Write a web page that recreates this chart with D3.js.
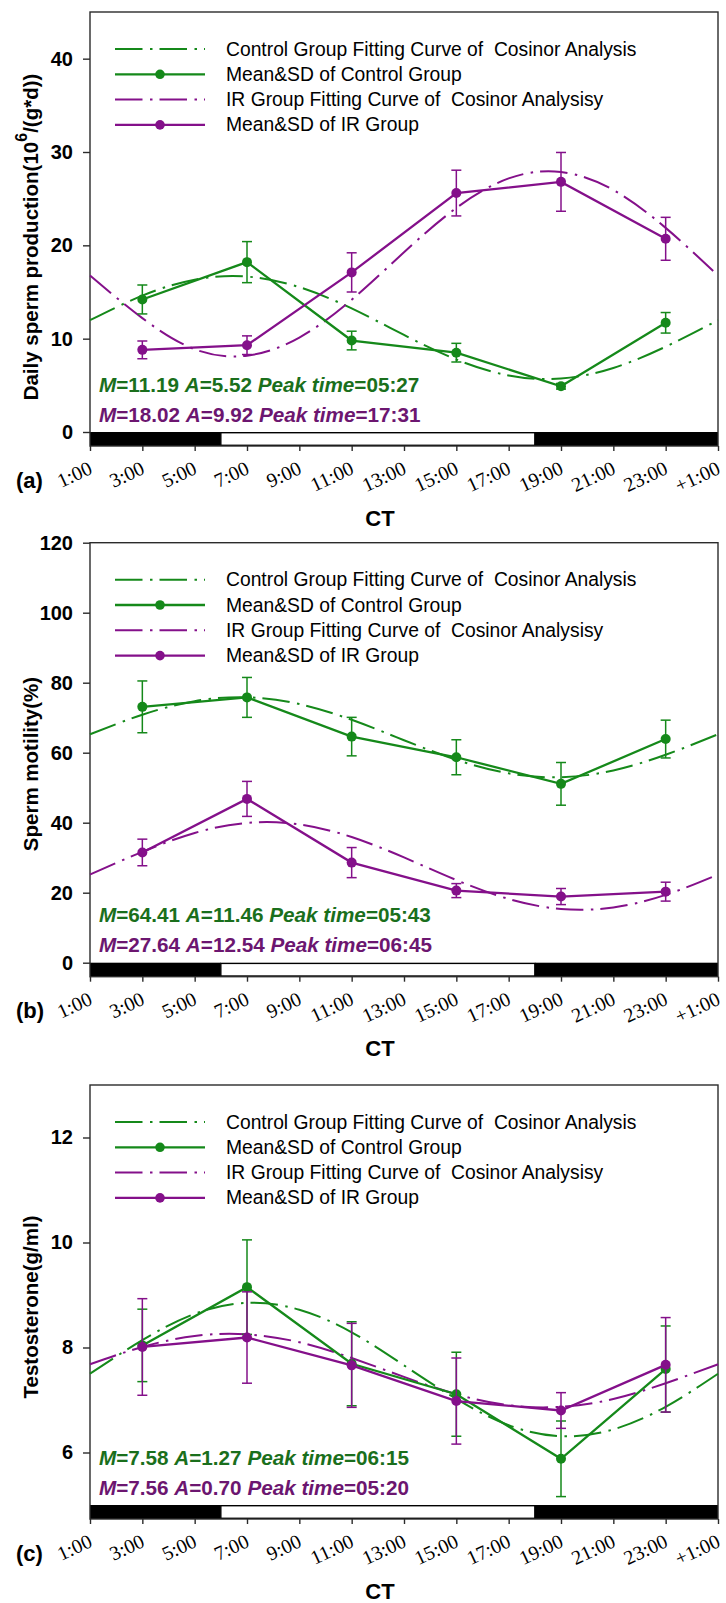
<!DOCTYPE html>
<html>
<head>
<meta charset="utf-8">
<script src="https://cdn.jsdelivr.net/npm/d3@7"></script>
<style>
  body { margin: 0; background: #fff; }
  svg { display: block; }
</style>
</head>
<body>
<div id="figure"></div>
<script>
// sampling times (CT hours) and x axis
const sampleHours = [3, 7, 11, 15, 19, 23];
const fitHours = [1, 3, 5, 7, 9, 11, 13, 15, 17, 19, 21, 23, 25];
const tickHours = [1, 3, 5, 7, 9, 11, 13, 15, 17, 19, 21, 23, 25];
const tickLabels = ['1:00', '3:00', '5:00', '7:00', '9:00', '11:00', '13:00', '15:00', '17:00', '19:00', '21:00', '23:00', '+1:00'];
const lightPhases = [[1, 6, 'dark'], [6, 18, 'light'], [18, 25, 'dark']];

const legendLabels = [
  'Control Group Fitting Curve of  Cosinor Analysis',
  'Mean&SD of Control Group',
  'IR Group Fitting Curve of  Cosinor Analysisy',
  'Mean&SD of IR Group'
];

// (a) daily sperm production
const dspTicks = [0, 10, 20, 30, 40];
const dspControlMean = [14.2, 18.2, 9.8, 8.5, 4.9, 11.7];
const dspControlSd = [1.55, 2.2, 1.0, 1.0, 0.3, 1.1];
const dspIrMean = [8.8, 9.3, 17.1, 25.6, 26.8, 20.7];
const dspIrSd = [0.95, 1.0, 2.1, 2.45, 3.15, 2.3];
const dspControlFit = [11.98, 14.61, 16.32, 16.65, 15.52, 13.24, 10.40, 7.77, 6.06, 5.73, 6.86, 9.14, 11.98];
const dspIrFit = [16.78, 12.2, 8.87, 8.18, 10.12, 14.17, 19.26, 24.01, 27.17, 27.86, 25.93, 21.87, 16.78];
const dspControlStats = ['11.19', '5.52', '05:27'];
const dspIrStats = ['18.02', '9.92', '17:31'];

// (b) sperm motility
const motTicks = [0, 20, 40, 60, 80, 100, 120];
const motControlMean = [73.1, 75.8, 64.6, 58.7, 51.1, 63.9];
const motControlSd = [7.4, 5.7, 5.5, 5.0, 6.1, 5.4];
const motIrMean = [31.5, 46.8, 28.6, 20.6, 18.9, 20.3];
const motIrSd = [3.8, 5.0, 4.3, 2.0, 2.3, 2.7];
const motControlFit = [65.25, 70.85, 74.73, 75.84, 73.89, 69.40, 63.57, 57.97, 54.10, 52.98, 54.93, 59.42, 65.25];
const motIrFit = [25.19, 31.67, 37.07, 39.94, 39.52, 35.90, 30.09, 23.61, 18.21, 15.34, 15.77, 19.38, 25.19];
const motControlStats = ['64.41', '11.46', '05:43'];
const motIrStats = ['27.64', '12.54', '06:45'];

// (c) testosterone
const tesTicks = [6, 8, 10, 12];
const tesControlMean = [8.04, 9.15, 7.69, 7.11, 5.88, 7.59];
const tesControlSd = [0.69, 0.9, 0.8, 0.8, 0.72, 0.82];
const tesIrMean = [8.01, 8.19, 7.66, 6.98, 6.80, 7.67];
const tesIrSd = [0.92, 0.87, 0.8, 0.82, 0.34, 0.9];
const tesControlFit = [7.50, 8.14, 8.64, 8.85, 8.72, 8.29, 7.66, 7.02, 6.52, 6.31, 6.44, 6.87, 7.50];
const tesIrFit = [7.68, 8.01, 8.22, 8.25, 8.10, 7.80, 7.44, 7.11, 6.90, 6.87, 7.02, 7.32, 7.68];
const tesControlStats = ['7.58', '1.27', '06:15'];
const tesIrStats = ['7.56', '0.70', '05:20'];

const GREEN = '#15891a';
const PURPLE = '#84108a';
const GREEN_TEXT = '#1a6f1c';
const PURPLE_TEXT = '#6c1670';
const SANS = "'Liberation Sans', Arial, sans-serif";
const SERIF = "'Liberation Serif', 'Times New Roman', serif";
const FIT_DASH = '27.5,7.5,2.5,7';

class CosinorFigure {
  constructor() {
    this.width = 726;
    this.height = 1603;
    this.left = 90;
    this.right = 718;
    this.barHeight = 14;
    this.x = d3.scaleLinear().domain([1, 25]).range([this.left, this.right]);

    this.svg = d3.select('#figure')
      .append('svg')
      .attr('width', this.width)
      .attr('height', this.height);

    this.svg.append('rect')
      .attr('width', this.width)
      .attr('height', this.height)
      .attr('fill', '#fff');

    this.panels = [
      {
        tag: '(a)', top: 12, bottom: 432, domain: [0, 45], ticks: dspTicks,
        title: ['Daily sperm production(10', '6', '/(g*d))'], titleY: 237,
        control: { mean: dspControlMean, sd: dspControlSd, fit: dspControlFit, stats: dspControlStats },
        ir: { mean: dspIrMean, sd: dspIrSd, fit: dspIrFit, stats: dspIrStats }
      },
      {
        tag: '(b)', top: 542.7, bottom: 962.7, domain: [0, 120], ticks: motTicks,
        title: ['Sperm motility(%)'], titleY: 764,
        control: { mean: motControlMean, sd: motControlSd, fit: motControlFit, stats: motControlStats },
        ir: { mean: motIrMean, sd: motIrSd, fit: motIrFit, stats: motIrStats }
      },
      {
        tag: '(c)', top: 1085, bottom: 1505, domain: [5, 13], ticks: tesTicks,
        title: ['Testosterone(g/ml)'], titleY: 1307,
        control: { mean: tesControlMean, sd: tesControlSd, fit: tesControlFit, stats: tesControlStats },
        ir: { mean: tesIrMean, sd: tesIrSd, fit: tesIrFit, stats: tesIrStats }
      }
    ];

    this.panels.forEach(p => this.renderPanel(p));
  }

  renderPanel(p) {
    const x = this.x;
    const y = d3.scaleLinear().domain(p.domain).range([p.bottom, p.top]);
    const g = this.svg.append('g');
    const barBottom = p.bottom + this.barHeight;

    // light / dark bar under the plot
    g.selectAll('.phase')
      .data(lightPhases)
      .enter()
      .append('rect')
      .attr('x', d => x(d[0]))
      .attr('y', d => d[2] === 'dark' ? p.bottom : p.bottom + 0.7)
      .attr('width', d => x(d[1]) - x(d[0]))
      .attr('height', d => d[2] === 'dark' ? this.barHeight : this.barHeight - 1.4)
      .attr('fill', d => d[2] === 'dark' ? '#000' : '#fff')
      .attr('stroke', d => d[2] === 'dark' ? null : '#000')
      .attr('stroke-width', 1.4);

    // frame
    g.append('rect')
      .attr('x', this.left)
      .attr('y', p.top)
      .attr('width', this.right - this.left)
      .attr('height', barBottom - p.top)
      .attr('fill', 'none')
      .attr('stroke', '#2b2b2b')
      .attr('stroke-width', 1.4);

    // y axis
    const yAxis = g.append('g')
      .attr('transform', `translate(${this.left},0)`)
      .call(d3.axisLeft(y).tickValues(p.ticks).tickSize(7).tickSizeOuter(0).tickPadding(10));
    yAxis.select('.domain').remove();
    yAxis.selectAll('line').attr('stroke', '#2b2b2b').attr('stroke-width', 1.4);
    yAxis.selectAll('text')
      .style('font-family', SANS)
      .style('font-size', '20px')
      .style('font-weight', 'bold')
      .attr('fill', '#000');

    // x axis
    const xAxis = g.append('g')
      .attr('transform', `translate(0,${barBottom})`)
      .call(d3.axisBottom(x).tickValues(tickHours).tickSize(5).tickSizeOuter(0)
        .tickFormat(h => tickLabels[tickHours.indexOf(h)]));
    xAxis.select('.domain').remove();
    xAxis.selectAll('line').attr('stroke', '#2b2b2b').attr('stroke-width', 1.4);
    xAxis.selectAll('text')
      .attr('x', 0)
      .attr('y', 0)
      .attr('dy', null)
      .attr('transform', 'translate(3,27) rotate(-25)')
      .style('text-anchor', 'end')
      .style('font-family', SERIF)
      .style('font-size', '20px')
      .attr('fill', '#000');

    // panel tag and CT label
    g.append('text')
      .attr('x', 16)
      .attr('y', barBottom + 34)
      .attr('dominant-baseline', 'central')
      .style('font-family', SANS)
      .style('font-size', '22px')
      .style('font-weight', 'bold')
      .text(p.tag);

    g.append('text')
      .attr('x', 380)
      .attr('y', barBottom + 72)
      .attr('text-anchor', 'middle')
      .attr('dominant-baseline', 'central')
      .style('font-family', SANS)
      .style('font-size', '22px')
      .style('font-weight', 'bold')
      .text('CT');

    // y title
    const title = g.append('text')
      .attr('transform', `translate(30,${p.titleY}) rotate(-90)`)
      .attr('text-anchor', 'middle')
      .attr('dominant-baseline', 'central')
      .style('font-family', SANS)
      .style('font-size', '20.5px')
      .style('font-weight', 'bold');
    title.append('tspan').text(p.title[0]);
    if (p.title.length > 1) {
      title.append('tspan').attr('dy', -9).style('font-size', '16px').text(p.title[1]);
      title.append('tspan').attr('dy', 9).text(p.title[2]);
    }

    // fitted curves
    const fitLine = d3.line()
      .x((d, i) => x(fitHours[i]))
      .y(d => y(d))
      .curve(d3.curveNatural);

    [[p.control.fit, GREEN], [p.ir.fit, PURPLE]].forEach(([vals, color]) => {
      g.append('path')
        .datum(vals)
        .attr('d', fitLine)
        .attr('fill', 'none')
        .attr('stroke', color)
        .attr('stroke-width', 2)
        .attr('stroke-dasharray', FIT_DASH);
    });

    // means with SD
    [[p.control, GREEN], [p.ir, PURPLE]].forEach(([grp, color]) => this.renderMeans(g, x, y, grp, color));

    this.renderLegend(g, p.top);
    this.renderStats(g, p);
  }

  renderMeans(g, x, y, grp, color) {
    const meanLine = d3.line()
      .x((d, i) => x(sampleHours[i]))
      .y(d => y(d));

    g.append('path')
      .datum(grp.mean)
      .attr('d', meanLine)
      .attr('fill', 'none')
      .attr('stroke', color)
      .attr('stroke-width', 2.3);

    const bars = g.selectAll(null)
      .data(grp.mean.map((m, i) => ({ t: sampleHours[i], m: m, sd: grp.sd[i] })))
      .enter()
      .append('g')
      .attr('stroke', color)
      .attr('stroke-width', 1.5);

    bars.append('line')
      .attr('x1', d => x(d.t)).attr('x2', d => x(d.t))
      .attr('y1', d => y(d.m - d.sd)).attr('y2', d => y(d.m + d.sd));
    bars.append('line')
      .attr('x1', d => x(d.t) - 5).attr('x2', d => x(d.t) + 5)
      .attr('y1', d => y(d.m + d.sd)).attr('y2', d => y(d.m + d.sd));
    bars.append('line')
      .attr('x1', d => x(d.t) - 5).attr('x2', d => x(d.t) + 5)
      .attr('y1', d => y(d.m - d.sd)).attr('y2', d => y(d.m - d.sd));

    g.selectAll(null)
      .data(grp.mean)
      .enter()
      .append('circle')
      .attr('cx', (d, i) => x(sampleHours[i]))
      .attr('cy', d => y(d))
      .attr('r', 5)
      .attr('fill', color);
  }

  renderLegend(g, top) {
    const rows = legendLabels.map((label, i) => ({
      label: label,
      color: i < 2 ? GREEN : PURPLE,
      fit: i % 2 === 0
    }));

    const item = g.selectAll('.legend')
      .data(rows)
      .enter()
      .append('g')
      .attr('class', 'legend')
      .attr('transform', (d, i) => `translate(0,${top + 37 + i * 25.3})`);

    item.append('line')
      .attr('x1', 115)
      .attr('x2', 205)
      .attr('stroke', d => d.color)
      .attr('stroke-width', d => d.fit ? 2 : 2.3)
      .attr('stroke-dasharray', d => d.fit ? FIT_DASH : null);

    item.filter(d => !d.fit)
      .append('circle')
      .attr('cx', 160)
      .attr('r', 4.8)
      .attr('fill', d => d.color);

    item.append('text')
      .attr('x', 226)
      .attr('dominant-baseline', 'central')
      .style('font-family', SANS)
      .style('font-size', '19.3px')
      .style('white-space', 'pre')
      .attr('fill', '#000')
      .text(d => d.label);
  }

  renderStats(g, p) {
    const rows = [
      { stats: p.control.stats, color: GREEN_TEXT, dy: -48.5 },
      { stats: p.ir.stats, color: PURPLE_TEXT, dy: -18.5 }
    ];

    rows.forEach(r => {
      const t = g.append('text')
        .attr('x', 99)
        .attr('y', p.bottom + r.dy)
        .attr('dominant-baseline', 'central')
        .attr('fill', r.color)
        .style('font-family', SANS)
        .style('font-size', '20.7px')
        .style('font-weight', 'bold');
      const parts = [
        ['M', true], [`=${r.stats[0]} `, false],
        ['A', true], [`=${r.stats[1]} `, false],
        ['Peak time', true], [`=${r.stats[2]}`, false]
      ];
      parts.forEach(([s, italic]) => {
        t.append('tspan')
          .style('font-style', italic ? 'italic' : 'normal')
          .text(s);
      });
    });
  }
}

document.addEventListener('DOMContentLoaded', () => {
  new CosinorFigure();
});
</script>
</body>
</html>
